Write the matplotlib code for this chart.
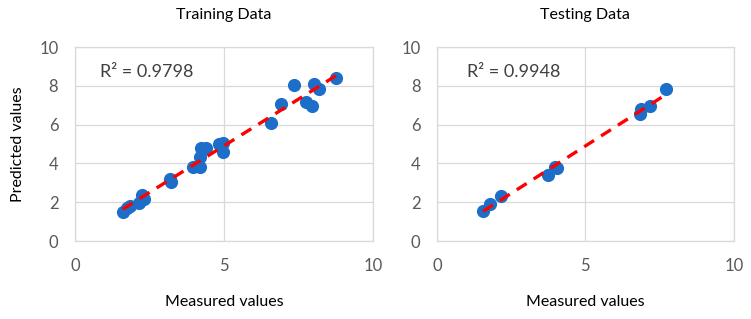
import matplotlib
matplotlib.use("Agg")
import matplotlib.pyplot as plt
import numpy as np

plt.rcParams['font.family'] = ['Lato', 'DejaVu Sans']

# training data (measured, predicted)
train_measured = [1.60, 1.74, 1.83, 2.13, 2.24, 2.30, 3.19, 3.21, 3.95, 4.20, 4.20, 4.22,
                  4.40, 4.82, 4.96, 4.95, 6.57, 6.91, 7.34, 7.76, 7.95, 8.03, 8.17, 8.77]
train_predicted = [1.51, 1.68, 1.80, 1.94, 2.37, 2.14, 3.22, 3.05, 3.79, 3.82, 4.34, 4.77,
                   4.77, 4.99, 5.03, 4.60, 6.09, 7.05, 8.03, 7.17, 6.95, 8.11, 7.86, 8.42]
train_r2 = "R² = 0.9798"

# testing data
test_measured = [1.55, 1.78, 2.17, 3.74, 3.97, 4.04, 6.83, 6.89, 7.17, 7.71]
test_predicted = [1.55, 1.93, 2.34, 3.41, 3.79, 3.76, 6.55, 6.81, 6.95, 7.86]
test_r2 = "R² = 0.9948"

titles = ["Training Data", "Testing Data"]

fig = plt.figure(figsize=(7.51, 3.19), dpi=100)
ax1 = fig.add_axes([0.0999, 0.2445, 0.397, 0.608])
ax2 = fig.add_axes([0.582, 0.2445, 0.395, 0.608])

grid_col = '#d9d9d9'
for ax, xs, ys, r2, title, tx in [(ax1, train_measured, train_predicted, train_r2, titles[0], 0.85),
                                   (ax2, test_measured, test_predicted, test_r2, titles[1], 1.0)]:
    xs = np.array(xs)
    ys = np.array(ys)
    ax.scatter(xs, ys, s=90, color='#1c6ec8', zorder=3, linewidths=0)
    m, b = np.polyfit(xs, ys, 1)
    xl = np.array([xs.min(), xs.max()])
    ax.plot(xl, m * xl + b, color='#ff0000', lw=2.4, ls=(0, (3.5, 2.5)), zorder=4)
    ax.set_xlim(0, 10)
    ax.set_ylim(0, 10)
    ax.set_xticks([0, 5, 10])
    ax.set_yticks([0, 2, 4, 6, 8, 10])
    ax.grid(True, color=grid_col, lw=0.9)
    ax.set_axisbelow(True)
    for s in ax.spines.values():
        s.set_color(grid_col)
        s.set_linewidth(0.9)
    ax.tick_params(length=0, labelsize=12, colors='#595959')
    ax.tick_params(axis='x', pad=12)
    ax.tick_params(axis='y', pad=12)
    ax.text(tx, 8.7, r2, fontsize=13, color='#404040', va='center')
    ax.set_title(title, fontsize=11.5, pad=20)
    ax.set_xlabel("Measured values", fontsize=11.5, labelpad=15)

ax1.set_ylabel("Predicted values", fontsize=11.5, labelpad=10)

fig.savefig("out.png", dpi=100)
